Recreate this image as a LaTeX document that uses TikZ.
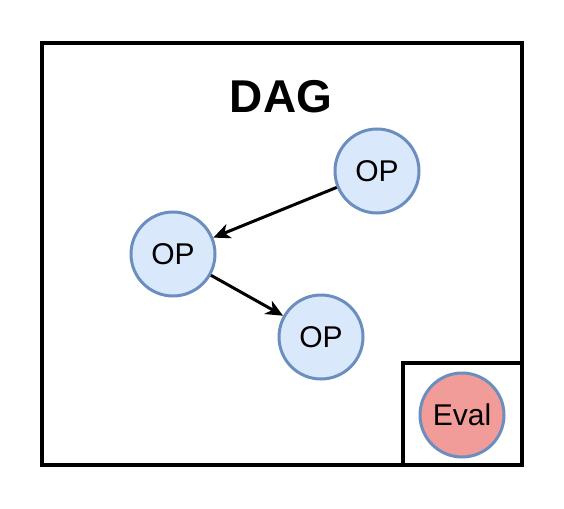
\documentclass[tikz,border=0pt]{standalone}
\usepackage{fontspec}
\setmainfont{Liberation Sans}
\usetikzlibrary{arrows.meta}

\definecolor{opfill}{HTML}{DAE8FC}
\definecolor{opline}{HTML}{6C8EBF}
\definecolor{evalfill}{HTML}{F19C99}

\tikzset{
  box/.style={draw,line width=3.5pt},
  opnode/.style={circle,draw=opline,fill=opfill,line width=3pt,
    minimum size=84pt,inner sep=0pt,font=\fontsize{30}{36}\selectfont},
  evalnode/.style={opnode,fill=evalfill},
  link/.style={line width=3pt,-{Stealth[length=17pt,width=15pt,inset=5pt]}},
}

\begin{document}
\begin{tikzpicture}[x=1pt,y=-1pt]
\useasboundingbox (0,0) rectangle (564,508);
% dag frame and eval corner
\draw[box] (42,43) rectangle (522,465);
\draw[box] (403,363) rectangle (522,465);
\node[font=\bfseries\fontsize{46}{52}\selectfont] (title) at (281,97) {DAG};
% ops
\node[opnode] (op1) at (377,171) {OP};
\node[opnode] (op2) at (173,254) {OP};
\node[opnode] (op3) at (321,337) {OP};
\node[evalnode] (eval) at (462,415) {Eval};
\draw[link] (op1) -- (op2);
\draw[link] (op2) -- (op3);
\end{tikzpicture}
\end{document}
